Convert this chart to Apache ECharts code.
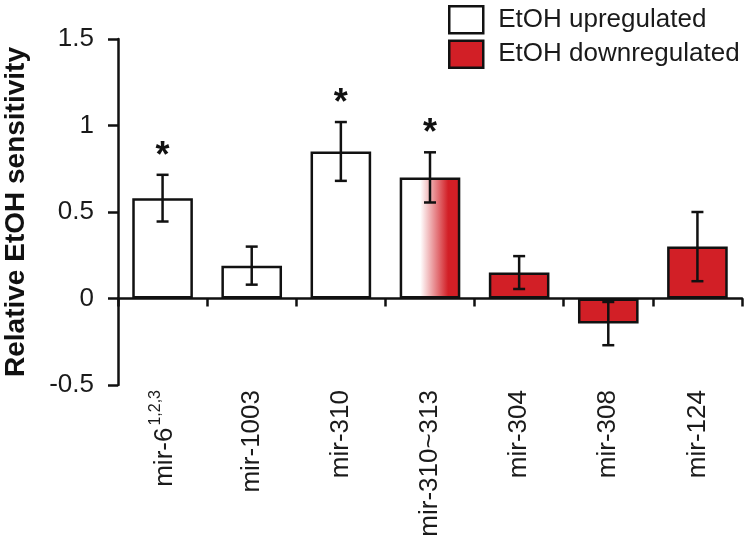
<!DOCTYPE html>
<html>
<head>
<meta charset="utf-8">
<script src="https://cdn.jsdelivr.net/npm/echarts@6/dist/echarts.min.js"></script>
<style>
  html, body { margin: 0; padding: 0; background: #fff; }
  #chart { width: 750px; height: 543px; }
</style>
</head>
<body>
<div id="chart"></div>
<script>
// data
var categories = ['mir-6', 'mir-1003', 'mir-310', 'mir-310~313', 'mir-304', 'mir-308', 'mir-124'];
var groups = ['up', 'up', 'up', 'mixed', 'down', 'down', 'down'];
var values = [0.58, 0.19, 0.85, 0.70, 0.15, -0.145, 0.30];
var errors = [0.135, 0.11, 0.17, 0.145, 0.095, 0.125, 0.20];
var significant = [true, false, true, true, false, false, false];
var yTicks = [-0.5, 0, 0.5, 1, 1.5];

var RED = '#d21f26';
var FONT = 'Liberation Sans, Arial, sans-serif';

var chart = echarts.init(document.getElementById('chart'));

// white bars (upregulated + the mixed one), red bars (downregulated)
var upData = values.map(function (v, i) {
  if (groups[i] === 'up') return v;
  if (groups[i] === 'mixed') {
    return {
      value: v,
      itemStyle: {
        color: new echarts.graphic.LinearGradient(0, 0, 1, 0, [
          {offset: 0, color: '#ffffff'},
          {offset: 0.34, color: '#ffffff'},
          {offset: 0.8, color: RED},
          {offset: 1, color: RED}
        ])
      }
    };
  }
  return '-';
});
var downData = values.map(function (v, i) {
  return groups[i] === 'down' ? v : '-';
});
var errData = values.map(function (v, i) {
  return [i, v - errors[i], v + errors[i], significant[i] ? 1 : 0];
});

chart.setOption({
  animation: false,
  textStyle: {fontFamily: FONT},
  legend: {
    orient: 'vertical',
    left: 448,
    top: 5,
    padding: 0,
    itemWidth: 34,
    itemHeight: 27,
    itemGap: 5,
    selectedMode: false,
    textStyle: {fontSize: 26, color: '#1a1a1a', fontFamily: FONT, padding: [0, 0, 0, 10]},
    data: [
      {name: 'EtOH upregulated', icon: 'rect', itemStyle: {color: '#fff', borderColor: '#111', borderWidth: 2.5}},
      {name: 'EtOH downregulated', icon: 'rect', itemStyle: {color: RED, borderColor: '#111', borderWidth: 2.5}}
    ]
  },
  grid: {left: 118, right: 8, top: 39, bottom: 158, outerBoundsMode: 'none'},
  xAxis: [
    {
      type: 'category',
      data: categories,
      axisLine: {onZero: true, lineStyle: {color: '#111', width: 2.5}},
      axisTick: {show: true, inside: false, length: 8, lineStyle: {color: '#111', width: 2.5}},
      axisLabel: {show: false},
      splitLine: {show: false}
    },
    {
      type: 'category',
      data: categories,
      position: 'bottom',
      axisLine: {show: false, onZero: false},
      axisTick: {show: false},
      axisLabel: {
        rotate: 90,
        margin: 5,
        fontSize: 26,
        color: '#1a1a1a',
        fontFamily: FONT,
        formatter: function (v) {
          if (v === 'mir-6') return '{m|mir-6}{s|1,2,3}';
          return v;
        },
        rich: {
          m: {fontSize: 26, fontFamily: FONT, color: '#1a1a1a', lineHeight: 30, verticalAlign: 'bottom'},
          s: {fontSize: 16, fontFamily: FONT, color: '#1a1a1a', lineHeight: 30, verticalAlign: 'top', padding: [0, 0, 0, 2]}
        }
      }
    }
  ],
  yAxis: {
    type: 'value',
    min: -0.5,
    max: 1.5,
    interval: 0.5,
    name: 'Relative EtOH sensitivity',
    nameLocation: 'middle',
    nameRotate: 90,
    nameGap: 88,
    nameTextStyle: {fontSize: 28, fontWeight: 'bold', color: '#111', fontFamily: FONT},
    axisLine: {show: true, lineStyle: {color: '#111', width: 2.5}},
    axisTick: {show: true, inside: false, length: 10, lineStyle: {color: '#111', width: 2.5}},
    axisLabel: {
      fontSize: 26,
      color: '#1a1a1a',
      margin: 24,
      fontFamily: FONT,
      formatter: function (v) {
        return yTicks.indexOf(v) >= 0 ? String(v) : '';
      }
    },
    splitLine: {show: false}
  },
  series: [
    {
      name: 'EtOH upregulated',
      type: 'bar',
      data: upData,
      barWidth: '68%',
      barGap: '-100%',
      itemStyle: {color: '#fff', borderColor: '#111', borderWidth: 2.5}
    },
    {
      name: 'EtOH downregulated',
      type: 'bar',
      data: downData,
      barWidth: '68%',
      barGap: '-100%',
      itemStyle: {color: RED, borderColor: '#111', borderWidth: 2.5}
    },
    {
      name: 'error',
      type: 'custom',
      data: errData,
      z: 10,
      renderItem: function (params, api) {
        var i = api.value(0);
        var lo = api.coord([i, api.value(1)]);
        var hi = api.coord([i, api.value(2)]);
        var cap = 6;
        var st = {stroke: '#111', lineWidth: 2.5};
        var kids = [
          {type: 'line', shape: {x1: hi[0], y1: hi[1], x2: lo[0], y2: lo[1]}, style: st},
          {type: 'line', shape: {x1: hi[0] - cap, y1: hi[1], x2: hi[0] + cap, y2: hi[1]}, style: st},
          {type: 'line', shape: {x1: lo[0] - cap, y1: lo[1], x2: lo[0] + cap, y2: lo[1]}, style: st}
        ];
        if (api.value(3)) {
          kids.push({
            type: 'text',
            style: {
              text: '*', x: hi[0], y: hi[1] - 18,
              fill: '#111', font: 'bold 36px ' + FONT,
              textAlign: 'center', textVerticalAlign: 'middle'
            }
          });
        }
        return {type: 'group', children: kids};
      }
    }
  ]
});
</script>
</body>
</html>
